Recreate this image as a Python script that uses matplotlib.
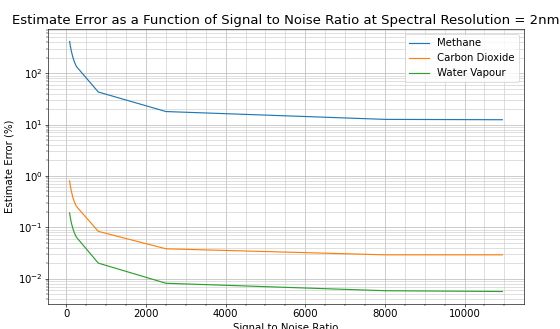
import matplotlib
matplotlib.use("Agg")
import matplotlib.pyplot as plt

snr = [80, 100, 125, 160, 200, 250, 800, 2500, 8000, 10950]
methane = [414, 330, 265, 205, 165, 135, 43, 17.9, 12.6, 12.4]
carbon_dioxide = [0.8, 0.62, 0.5, 0.38, 0.31, 0.255, 0.083, 0.038, 0.029, 0.029]
water_vapour = [0.19, 0.15, 0.12, 0.095, 0.077, 0.064, 0.020, 0.0081, 0.0058, 0.0056]

fig = plt.figure(figsize=(10, 5.875), dpi=56)
ax = fig.add_axes([48/560, 1 - 304/329, (524-48)/560, (304-29)/329])
ax.plot(snr, methane, label="Methane")
ax.plot(snr, carbon_dioxide, label="Carbon Dioxide")
ax.plot(snr, water_vapour, label="Water Vapour")
ax.set_yscale("log")
ax.minorticks_on()
ax.grid(True, which="major", color="#b0b0b0", linewidth=0.8)
ax.grid(True, which="minor", color="#cccccc", linewidth=0.8)
ax.set_title("Estimate Error as a Function of Signal to Noise Ratio at Spectral Resolution = 2nm",
             fontsize=17)
ax.set_xlabel("Signal to Noise Ratio", fontsize=13)
ax.set_ylabel("Estimate Error (%)", fontsize=13)
ax.tick_params(labelsize=13)
ax.legend(loc="upper right", fontsize=13)
fig.savefig("out.png", dpi=56)
